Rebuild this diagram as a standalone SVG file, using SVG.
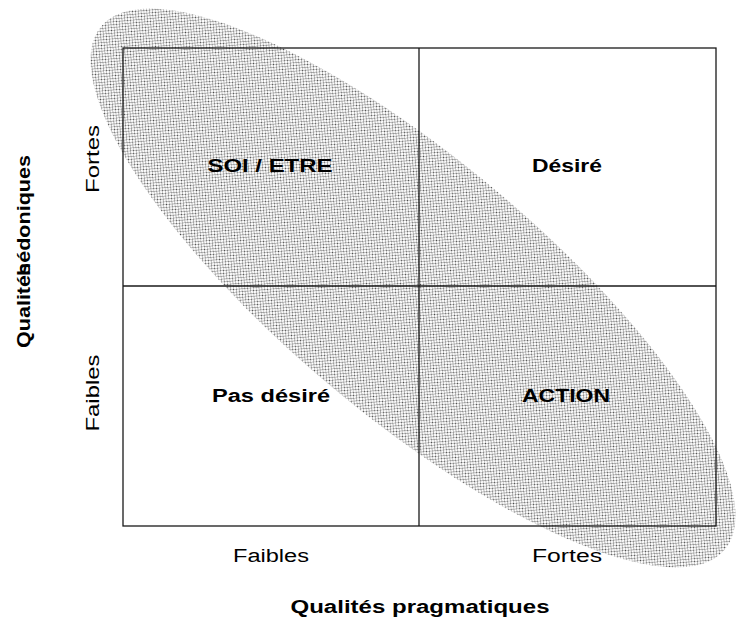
<svg xmlns="http://www.w3.org/2000/svg" width="739" height="622" viewBox="0 0 739 622">
  <style>
    .lbl { font-family: "Liberation Sans", Arial, sans-serif; font-size: 18px; fill: #000; }
    .b { font-weight: bold; }
    .grid { fill: none; stroke: #1a1a1a; stroke-width: 1.3; }
  </style>
  <defs>
    <pattern id="dots" width="4" height="4" patternUnits="userSpaceOnUse">
      <rect width="4" height="4" fill="#ffffff"/>
      <rect x="0" y="0" width="1" height="1" fill="#444"/>
      <rect x="2" y="2" width="1" height="1" fill="#444"/>
      <rect x="1" y="1" width="1" height="1" fill="#aaa"/>
      <rect x="3" y="3" width="1" height="1" fill="#aaa"/>
      <rect x="3" y="1" width="1" height="1" fill="#aaa"/>
      <rect x="1" y="3" width="1" height="1" fill="#aaa"/>
    </pattern>
  </defs>
  <rect width="739" height="622" fill="#ffffff"/>

  <g id="zone">
    <ellipse cx="413" cy="288" rx="407" ry="128" transform="rotate(40 413 288)" fill="url(#dots)"/>
  </g>

  <g id="grid">
    <rect class="grid" x="123" y="48" width="593" height="478"/>
    <line class="grid" x1="419" y1="48" x2="419" y2="526"/>
    <line class="grid" x1="123" y1="286" x2="716" y2="286"/>
  </g>

  <g id="q-soi-etre">
    <text class="lbl b" x="270" y="172" text-anchor="middle" textLength="125" lengthAdjust="spacingAndGlyphs">SOI / ETRE</text>
  </g>
  <g id="q-desire">
    <text class="lbl b" x="567" y="172" text-anchor="middle" textLength="70" lengthAdjust="spacingAndGlyphs">Désiré</text>
  </g>
  <g id="q-pas-desire">
    <text class="lbl b" x="271" y="402" text-anchor="middle" textLength="118" lengthAdjust="spacingAndGlyphs">Pas désiré</text>
  </g>
  <g id="q-action">
    <text class="lbl b" x="566" y="402" text-anchor="middle" textLength="88" lengthAdjust="spacingAndGlyphs">ACTION</text>
  </g>

  <g id="axis-x">
    <text class="lbl" x="271" y="562" text-anchor="middle" textLength="76" lengthAdjust="spacingAndGlyphs">Faibles</text>
    <text class="lbl" x="567" y="562" text-anchor="middle" textLength="70" lengthAdjust="spacingAndGlyphs">Fortes</text>
    <text class="lbl b" x="420" y="613" text-anchor="middle" textLength="259" lengthAdjust="spacingAndGlyphs">Qualités pragmatiques</text>
  </g>

  <g id="axis-y">
    <text class="lbl" transform="translate(99,159) rotate(-90)" text-anchor="middle" textLength="68" lengthAdjust="spacingAndGlyphs">Fortes</text>
    <text class="lbl" transform="translate(99,393) rotate(-90)" text-anchor="middle" textLength="77" lengthAdjust="spacingAndGlyphs">Faibles</text>
    <text class="lbl b" transform="translate(30,348) rotate(-90)" textLength="85" lengthAdjust="spacingAndGlyphs">Qualités</text>
    <text class="lbl b" transform="translate(30,276) rotate(-90)" textLength="121" lengthAdjust="spacingAndGlyphs">hédoniques</text>
  </g>
</svg>
